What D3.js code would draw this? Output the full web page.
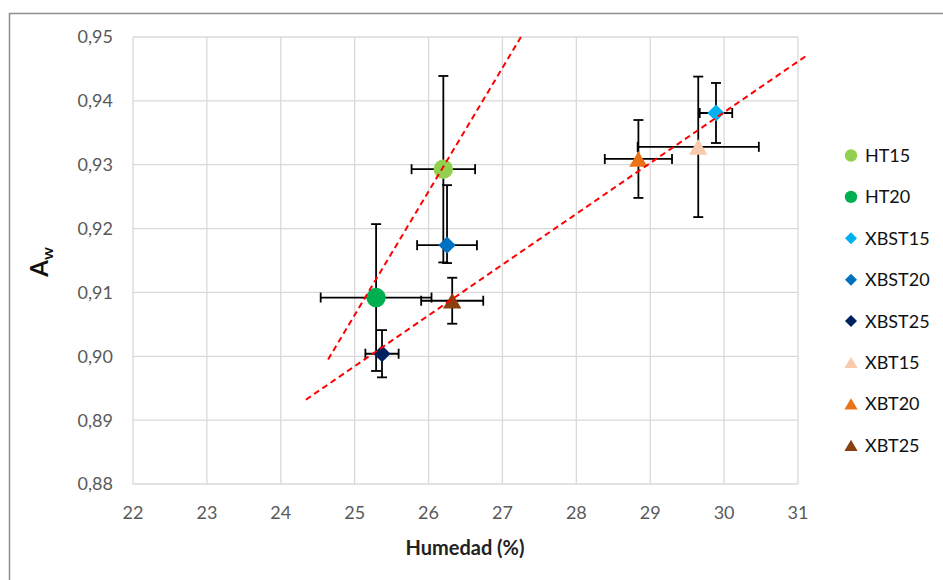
<!DOCTYPE html>
<html>
<head>
<meta charset="utf-8">
<script src="https://cdn.jsdelivr.net/npm/d3@7"></script>
<style>
  body { margin: 0; background: #fff; }
  text { font-family: Lato, "Open Sans", sans-serif; }
</style>
</head>
<body>
<script>
// --- datos
var names = ['HT15', 'HT20', 'XBST15', 'XBST20', 'XBST25', 'XBT15', 'XBT20', 'XBT25']
var humedad = [26.20, 25.29, 29.89, 26.25, 25.37, 29.65, 28.84, 26.32]
var aw = [0.9293, 0.9092, 0.9381, 0.9174, 0.9004, 0.9328, 0.9309, 0.9087]
var xErr = [0.43, 0.75, 0.22, 0.405, 0.225, 0.82, 0.455, 0.42]
var yErrUp = [0.0146, 0.0115, 0.0047, 0.0094, 0.0037, 0.0110, 0.0061, 0.0036]
var yErrDown = [0.0146, 0.0115, 0.0047, 0.0028, 0.0037, 0.0110, 0.0061, 0.0036]
var shapes = ['circle', 'circle', 'diamond', 'diamond', 'diamond', 'triangle', 'triangle', 'triangle']
var colors = ['#92D050', '#00B050', '#00B0F0', '#0070C0', '#002060', '#F8CBAD', '#E97316', '#8B3F0E']

// líneas de tendencia (extremos)
var trend1X = [24.64, 27.25], trend1Y = [0.8995, 0.95]
var trend2X = [24.34, 31.13], trend2Y = [0.8932, 0.9472]

var xTicks = [22, 23, 24, 25, 26, 27, 28, 29, 30, 31]
var yTicks = [0.88, 0.89, 0.90, 0.91, 0.92, 0.93, 0.94, 0.95]

; (function () {
    var width = 943, height = 580
    var pLeft = 133, pRight = 798, pTop = 37, pBottom = 484

    var x = d3.scaleLinear().domain([22, 31]).range([pLeft, pRight])
    var y = d3.scaleLinear().domain([0.88, 0.95]).range([pBottom, pTop])

    var es = d3.formatLocale({ decimal: ',', thousands: '.', grouping: [3], currency: ['', ''] })
    var fmtY = es.format('.2f')

    var svg = d3.select('body').append('svg')
        .attr('width', width)
        .attr('height', height)

    // marco exterior
    svg.append('rect')
        .attr('x', 9.5).attr('y', 13.5)
        .attr('width', 1000).attr('height', 1000)
        .attr('fill', 'none')
        .attr('stroke', '#8E8E8E')
        .attr('stroke-width', 1.5)

    // rejilla
    svg.append('g').selectAll('line')
        .data(xTicks)
        .enter().append('line')
        .attr('x1', function (d) { return x(d) }).attr('x2', function (d) { return x(d) })
        .attr('y1', pTop).attr('y2', pBottom)
        .attr('stroke', '#D9D9D9').attr('stroke-width', 1.3)

    svg.append('g').selectAll('line')
        .data(yTicks)
        .enter().append('line')
        .attr('x1', pLeft).attr('x2', pRight)
        .attr('y1', function (d) { return y(d) }).attr('y2', function (d) { return y(d) })
        .attr('stroke', '#D9D9D9').attr('stroke-width', 1.3)

    // etiquetas de ejes
    svg.append('g').selectAll('text')
        .data(xTicks)
        .enter().append('text')
        .attr('x', function (d) { return x(d) })
        .attr('y', 519)
        .attr('text-anchor', 'middle')
        .attr('font-size', 18)
        .attr('fill', '#595959')
        .text(function (d) { return d })

    svg.append('g').selectAll('text')
        .data(yTicks)
        .enter().append('text')
        .attr('x', 113)
        .attr('y', function (d) { return y(d) })
        .attr('dy', '0.36em')
        .attr('text-anchor', 'end')
        .attr('font-size', 18)
        .attr('fill', '#595959')
        .text(function (d) { return fmtY(d) })

    svg.append('text')
        .attr('x', 465)
        .attr('y', 555)
        .attr('text-anchor', 'middle')
        .attr('font-size', 20)
        .attr('font-weight', 'bold')
        .attr('fill', '#222')
        .text('Humedad (%)')

    var yl = svg.append('text')
        .attr('transform', 'translate(48,262) rotate(-90)')
        .attr('text-anchor', 'middle')
        .attr('font-weight', 'bold')
        .attr('fill', '#111')
    yl.append('tspan').attr('font-size', 24).text('A')
    yl.append('tspan').attr('font-size', 16).attr('dy', 5).text('w')

    // barras de error
    var pts = names.map(function (n, i) { return i })
    var cap = 5
    var eb = svg.append('g')
        .attr('stroke', '#000')
        .attr('stroke-width', 1.8)
        .selectAll('g')
        .data(pts)
        .enter().append('g')

    eb.append('line')
        .attr('x1', function (i) { return x(humedad[i] - xErr[i]) })
        .attr('x2', function (i) { return x(humedad[i] + xErr[i]) })
        .attr('y1', function (i) { return y(aw[i]) })
        .attr('y2', function (i) { return y(aw[i]) })
    eb.append('line')
        .attr('x1', function (i) { return x(humedad[i] - xErr[i]) })
        .attr('x2', function (i) { return x(humedad[i] - xErr[i]) })
        .attr('y1', function (i) { return y(aw[i]) - cap })
        .attr('y2', function (i) { return y(aw[i]) + cap })
    eb.append('line')
        .attr('x1', function (i) { return x(humedad[i] + xErr[i]) })
        .attr('x2', function (i) { return x(humedad[i] + xErr[i]) })
        .attr('y1', function (i) { return y(aw[i]) - cap })
        .attr('y2', function (i) { return y(aw[i]) + cap })
    eb.append('line')
        .attr('x1', function (i) { return x(humedad[i]) })
        .attr('x2', function (i) { return x(humedad[i]) })
        .attr('y1', function (i) { return y(aw[i] + yErrUp[i]) })
        .attr('y2', function (i) { return y(aw[i] - yErrDown[i]) })
    eb.append('line')
        .attr('x1', function (i) { return x(humedad[i]) - cap })
        .attr('x2', function (i) { return x(humedad[i]) + cap })
        .attr('y1', function (i) { return y(aw[i] + yErrUp[i]) })
        .attr('y2', function (i) { return y(aw[i] + yErrUp[i]) })
    eb.append('line')
        .attr('x1', function (i) { return x(humedad[i]) - cap })
        .attr('x2', function (i) { return x(humedad[i]) + cap })
        .attr('y1', function (i) { return y(aw[i] - yErrDown[i]) })
        .attr('y2', function (i) { return y(aw[i] - yErrDown[i]) })

    // formas de marcador
    function markerPath(shape, s) {
        var p = d3.path()
        if (shape === 'circle') {
            p.arc(0, 0, s, 0, 2 * Math.PI)
        } else if (shape === 'diamond') {
            p.moveTo(0, -s); p.lineTo(s, 0); p.lineTo(0, s); p.lineTo(-s, 0); p.closePath()
        } else {
            p.moveTo(0, -s * 0.85); p.lineTo(s, s * 0.85); p.lineTo(-s, s * 0.85); p.closePath()
        }
        return p.toString()
    }
    var bigSize = { circle: 9.7, diamond: 8.6, triangle: 9.2 }
    var smallSize = { circle: 6.2, diamond: 6, triangle: 6.6 }

    svg.append('g').selectAll('path')
        .data(pts)
        .enter().append('path')
        .attr('transform', function (i) { return 'translate(' + x(humedad[i]) + ',' + y(aw[i]) + ')' })
        .attr('d', function (i) { return markerPath(shapes[i], bigSize[shapes[i]]) })
        .attr('fill', function (i) { return colors[i] })

    // tendencias
    var line = d3.line()
        .x(function (d) { return x(d[0]) })
        .y(function (d) { return y(d[1]) })

    ;[[trend1X, trend1Y], [trend2X, trend2Y]].forEach(function (t) {
        svg.append('path')
            .datum(t[0].map(function (v, k) { return [v, t[1][k]] }))
            .attr('d', line)
            .attr('fill', 'none')
            .attr('stroke', '#FF0000')
            .attr('stroke-width', 2)
            .attr('stroke-dasharray', '6,4')
    })

    // leyenda
    var lg = svg.append('g').selectAll('g')
        .data(pts)
        .enter().append('g')
        .attr('transform', function (i) { return 'translate(851,' + (155.5 + i * 41.4) + ')' })

    lg.append('path')
        .attr('d', function (i) { return markerPath(shapes[i], smallSize[shapes[i]]) })
        .attr('fill', function (i) { return colors[i] })

    lg.append('text')
        .attr('x', 14)
        .attr('dy', '0.36em')
        .attr('font-size', 18)
        .attr('fill', '#111')
        .text(function (i) { return names[i] })
})()
</script>
</body>
</html>
